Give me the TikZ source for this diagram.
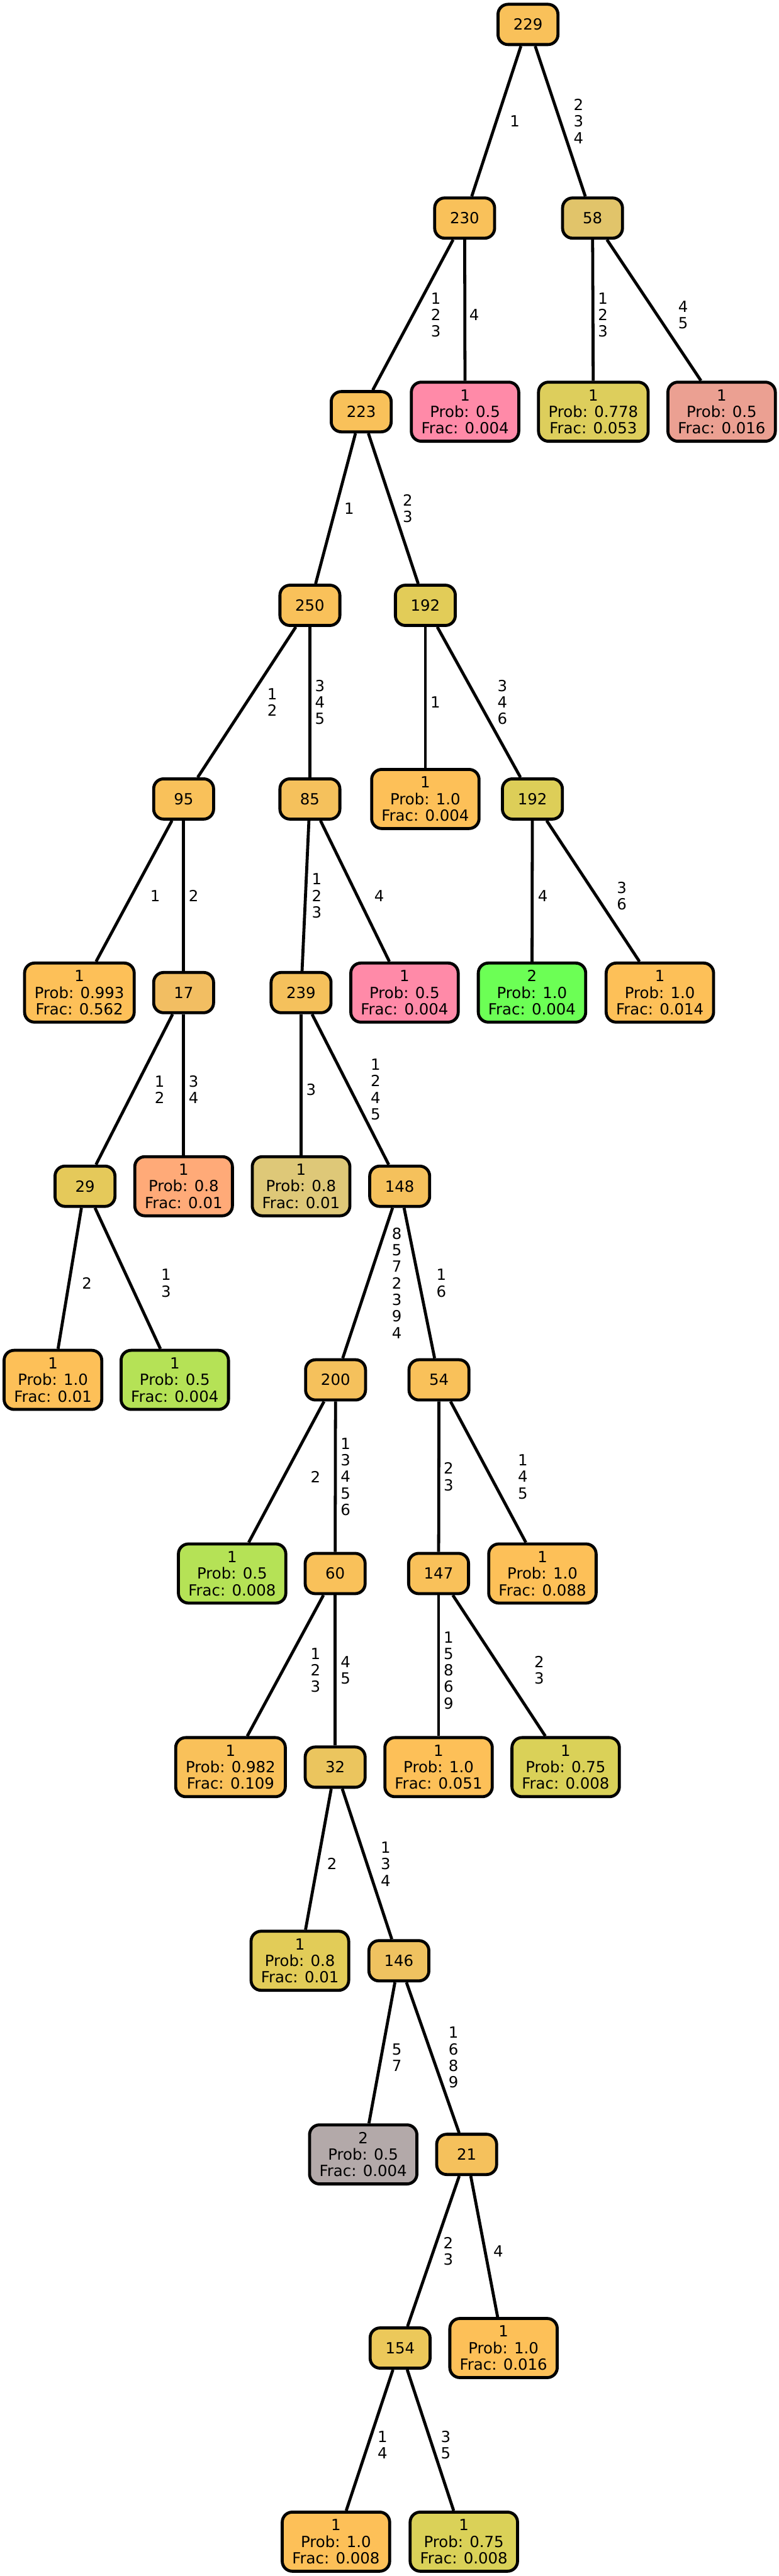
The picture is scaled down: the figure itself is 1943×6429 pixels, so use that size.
\documentclass[tikz,border=0pt]{standalone}
\usepackage{fontspec}
\setmainfont{DejaVu Sans}
\newcommand\nodefont{\fontsize{19.15pt}{20.65pt}\selectfont}
\definecolor{cOr}{HTML}{F9C15A}
\definecolor{cLeafOr}{HTML}{FDC058}
\definecolor{cPink}{HTML}{FF8AA8}
\definecolor{cOlive}{HTML}{DDCE5C}
\definecolor{cSalmon}{HTML}{EBA092}
\definecolor{cTan}{HTML}{E1C46A}
\definecolor{cY1}{HTML}{E2CC58}
\definecolor{cY2}{HTML}{DDCE58}
\definecolor{cGreen}{HTML}{6CFF55}
\definecolor{cLime}{HTML}{B5E256}
\definecolor{cApricot}{HTML}{FFAA78}
\definecolor{cKhaki}{HTML}{DEC878}
\definecolor{cGray}{HTML}{B3A9A9}
\definecolor{c17}{HTML}{F2BE62}
\definecolor{c29}{HTML}{E5C95A}
\definecolor{c32}{HTML}{EBC55E}
\definecolor{c146}{HTML}{EFC260}
\definecolor{c154}{HTML}{ECC85A}
\definecolor{c85}{HTML}{F5C15C}
\definecolor{cY3}{HTML}{DAD158}
\tikzset{
  inode/.style={draw, line width=3.75pt, rounded corners=12.5pt, minimum width=74.75pt, minimum height=50.25pt, inner sep=0pt, font=\nodefont, align=center},
  leafnode/.style={draw, line width=3.75pt, rounded corners=12.5pt, minimum height=73.75pt, inner xsep=12.4pt, inner ysep=0pt, font=\nodefont, align=center},
  elab/.style={font=\nodefont, align=center, inner sep=0pt},
  conn/.style={line width=3.75pt}
}
\begin{document}
\begin{tikzpicture}[x=0.5pt,y=-0.5pt]
\useasboundingbox (0,0) rectangle (1943,6429);
% internal nodes
\node[inode, fill=cOr] (n229) at (1317,61) {229};
\node[inode, fill=cOr] (n230) at (1159,544.25) {230};
\node[inode, fill=cTan] (n58) at (1478,544.25) {58};
\node[inode, fill=cOr] (n223) at (901,1027.5) {223};
\node[inode, fill=cOr] (n250) at (773,1510.75) {250};
\node[inode, fill=cY1] (n192a) at (1061,1510.75) {192};
\node[inode, fill=cOr] (n95) at (458,1994) {95};
\node[inode, fill=c85] (n85) at (773,1994) {85};
\node[inode, fill=cY2] (n192b) at (1328,1994) {192};
\node[inode, fill=c17] (n17) at (458,2477.25) {17};
\node[inode, fill=c85] (n239) at (751,2477.25) {239};
\node[inode, fill=c29] (n29) at (212,2960.5) {29};
\node[inode, fill=c85] (n148) at (997,2960.5) {148};
\node[inode, fill=c85] (n200) at (837,3443.75) {200};
\node[inode, fill=cOr] (n54) at (1095,3443.75) {54};
\node[inode, fill=cOr] (n60) at (836,3927) {60};
\node[inode, fill=cOr] (n147) at (1094,3927) {147};
\node[inode, fill=c32] (n32) at (836,4410.25) {32};
\node[inode, fill=c146] (n146) at (995,4893.5) {146};
\node[inode, fill=c85] (n21) at (1164,5376.75) {21};
\node[inode, fill=c154] (n154) at (998,5860) {154};
% leaves
\node[leafnode, fill=cPink] (l230) at (1160,1027.5) {1\\Prob: 0.5\\Frac: 0.004};
\node[leafnode, fill=cOlive] (l58a) at (1480,1027.5) {1\\Prob: 0.778\\Frac: 0.053};
\node[leafnode, fill=cSalmon] (l58b) at (1800,1027.5) {1\\Prob: 0.5\\Frac: 0.016};
\node[leafnode, fill=cLeafOr] (l192a) at (1061,1994) {1\\Prob: 1.0\\Frac: 0.004};
\node[leafnode, fill=cLeafOr] (l95) at (198,2477.25) {1\\Prob: 0.993\\Frac: 0.562};
\node[leafnode, fill=cPink] (l85) at (1009,2477.25) {1\\Prob: 0.5\\Frac: 0.004};
\node[leafnode, fill=cGreen] (l192b) at (1327,2477.25) {2\\Prob: 1.0\\Frac: 0.004};
\node[leafnode, fill=cLeafOr] (l192c) at (1646,2477.25) {1\\Prob: 1.0\\Frac: 0.014};
\node[leafnode, fill=cApricot] (l17) at (458,2960.5) {1\\Prob: 0.8\\Frac: 0.01};
\node[leafnode, fill=cKhaki] (l239) at (751,2960.5) {1\\Prob: 0.8\\Frac: 0.01};
\node[leafnode, fill=cLeafOr] (l29a) at (132,3443.75) {1\\Prob: 1.0\\Frac: 0.01};
\node[leafnode, fill=cLime] (l29b) at (436,3443.75) {1\\Prob: 0.5\\Frac: 0.004};
\node[leafnode, fill=cLime] (l200) at (579,3927) {1\\Prob: 0.5\\Frac: 0.008};
\node[leafnode, fill=cLeafOr] (l54) at (1353,3927) {1\\Prob: 1.0\\Frac: 0.088};
\node[leafnode, fill=cOr] (l60) at (575,4410.25) {1\\Prob: 0.982\\Frac: 0.109};
\node[leafnode, fill=cLeafOr] (l147a) at (1094,4410.25) {1\\Prob: 1.0\\Frac: 0.051};
\node[leafnode, fill=cY3] (l147b) at (1411,4410.25) {1\\Prob: 0.75\\Frac: 0.008};
\node[leafnode, fill=cY1] (l32) at (748,4893.5) {1\\Prob: 0.8\\Frac: 0.01};
\node[leafnode, fill=cGray] (l146) at (906,5376.75) {2\\Prob: 0.5\\Frac: 0.004};
\node[leafnode, fill=cLeafOr] (l21) at (1256,5860) {1\\Prob: 1.0\\Frac: 0.016};
\node[leafnode, fill=cLeafOr] (l154a) at (838,6343.25) {1\\Prob: 1.0\\Frac: 0.008};
\node[leafnode, fill=cY3] (l154b) at (1157,6343.25) {1\\Prob: 0.75\\Frac: 0.008};
% connectors
\draw[conn] (n229) -- (n230);
\draw[conn] (n229) -- (n58);
\draw[conn] (n230) -- (n223);
\draw[conn] (n230) -- (l230);
\draw[conn] (n58) -- (l58a);
\draw[conn] (n58) -- (l58b);
\draw[conn] (n223) -- (n250);
\draw[conn] (n223) -- (n192a);
\draw[conn] (n250) -- (n95);
\draw[conn] (n250) -- (n85);
\draw[conn] (n192a) -- (l192a);
\draw[conn] (n192a) -- (n192b);
\draw[conn] (n95) -- (l95);
\draw[conn] (n95) -- (n17);
\draw[conn] (n85) -- (n239);
\draw[conn] (n85) -- (l85);
\draw[conn] (n192b) -- (l192b);
\draw[conn] (n192b) -- (l192c);
\draw[conn] (n17) -- (n29);
\draw[conn] (n17) -- (l17);
\draw[conn] (n239) -- (l239);
\draw[conn] (n239) -- (n148);
\draw[conn] (n29) -- (l29a);
\draw[conn] (n29) -- (l29b);
\draw[conn] (n148) -- (n200);
\draw[conn] (n148) -- (n54);
\draw[conn] (n200) -- (l200);
\draw[conn] (n200) -- (n60);
\draw[conn] (n54) -- (n147);
\draw[conn] (n54) -- (l54);
\draw[conn] (n60) -- (l60);
\draw[conn] (n60) -- (n32);
\draw[conn] (n147) -- (l147a);
\draw[conn] (n147) -- (l147b);
\draw[conn] (n32) -- (l32);
\draw[conn] (n32) -- (n146);
\draw[conn] (n146) -- (l146);
\draw[conn] (n146) -- (n21);
\draw[conn] (n21) -- (n154);
\draw[conn] (n21) -- (l21);
\draw[conn] (n154) -- (l154a);
\draw[conn] (n154) -- (l154b);
% connector labels
\node[elab] (t1) at (1284,302.6) {1};
\node[elab] (t2) at (1443,302.6) {2\\3\\4};
\node[elab] (t3) at (1087,785.9) {1\\2\\3};
\node[elab] (t4) at (1183,785.9) {4};
\node[elab] (t5) at (1504,785.9) {1\\2\\3};
\node[elab] (t6) at (1704,785.9) {4\\5};
\node[elab] (t7) at (871,1269.1) {1};
\node[elab] (t8) at (1017,1269.1) {2\\3};
\node[elab] (t9) at (679,1752.4) {1\\2};
\node[elab] (t10) at (798,1752.4) {3\\4\\5};
\node[elab] (t11) at (1086,1752.4) {1};
\node[elab] (t12) at (1253,1752.4) {3\\4\\6};
\node[elab] (t13) at (387,2235.6) {1};
\node[elab] (t14) at (483,2235.6) {2};
\node[elab] (t15) at (790,2235.6) {1\\2\\3};
\node[elab] (t16) at (946,2235.6) {4};
\node[elab] (t17) at (1354,2235.6) {4};
\node[elab] (t18) at (1551,2235.6) {3\\6};
\node[elab] (t19) at (398,2718.9) {1\\2};
\node[elab] (t20) at (483,2718.9) {3\\4};
\node[elab] (t21) at (776,2718.9) {3};
\node[elab] (t22) at (937,2718.9) {1\\2\\4\\5};
\node[elab] (t23) at (217,3202.1) {2};
\node[elab] (t24) at (414,3202.1) {1\\3};
\node[elab] (t25) at (990,3202.1) {8\\5\\7\\2\\3\\9\\4};
\node[elab] (t26) at (1101,3202.1) {1\\6};
\node[elab] (t27) at (787,3685.4) {2};
\node[elab] (t28) at (862,3685.4) {1\\3\\4\\5\\6};
\node[elab] (t29) at (1119,3685.4) {2\\3};
\node[elab] (t30) at (1304,3685.4) {1\\4\\5};
\node[elab] (t31) at (787,4168.6) {1\\2\\3};
\node[elab] (t32) at (862,4168.6) {4\\5};
\node[elab] (t33) at (1119,4168.6) {1\\5\\8\\6\\9};
\node[elab] (t34) at (1345,4168.6) {2\\3};
\node[elab] (t35) at (828,4651.9) {2};
\node[elab] (t36) at (962,4651.9) {1\\3\\4};
\node[elab] (t37) at (990,5135.1) {5\\7};
\node[elab] (t38) at (1131,5135.1) {1\\6\\8\\9};
\node[elab] (t39) at (1118,5618.4) {2\\3};
\node[elab] (t40) at (1243,5618.4) {4};
\node[elab] (t41) at (954,6101.6) {1\\4};
\node[elab] (t42) at (1112,6101.6) {3\\5};
\end{tikzpicture}
\end{document}
